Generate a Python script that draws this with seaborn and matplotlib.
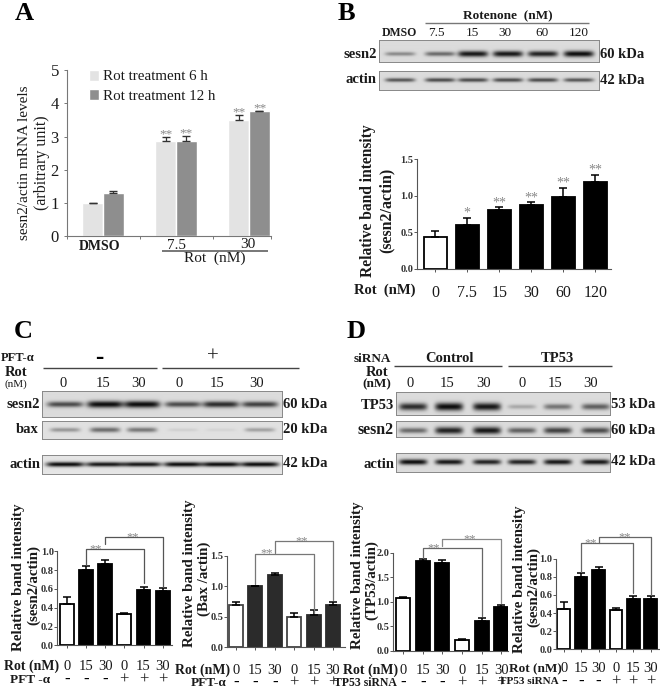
import numpy as np
import pandas as pd
import matplotlib
matplotlib.use("Agg")
import matplotlib.pyplot as plt
from matplotlib.transforms import blended_transform_factory
import seaborn as sns

W, H = 660, 691

# panel A
a_groups = ["DMSO", "7.5", "30"]
a_series = ["Rot treatment 6 h", "Rot treatment 12 h"]
a_6h = [1.0, 2.88, 3.5]
a_12h = [1.3, 2.88, 3.76]
a_6h_err = [0.0, 0.11, 0.14]
a_12h_err = [0.07, 0.15, 0.02]

# panel B
b_doses = ["0", "7.5", "15", "30", "60", "120"]
b_vals = [0.44, 0.60, 0.80, 0.87, 0.98, 1.19]
b_errs = [0.08, 0.10, 0.04, 0.04, 0.13, 0.10]
b_stars = ["", "*", "**", "**", "**", "**"]

# panels C and D
doses = ["0", "15", "30", "0", "15", "30"]
signs = ["-", "-", "-", "+", "+", "+"]
c1_vals = [0.44, 0.80, 0.87, 0.33, 0.59, 0.58]
c1_errs = [0.07, 0.04, 0.04, 0.01, 0.03, 0.03]
c2_vals = [0.69, 1.00, 1.18, 0.49, 0.53, 0.69]
c2_errs = [0.05, 0.01, 0.04, 0.07, 0.08, 0.05]
d1_vals = [1.07, 1.84, 1.80, 0.22, 0.61, 0.90]
d1_errs = [0.02, 0.04, 0.06, 0.01, 0.06, 0.04]
d2_vals = [0.44, 0.80, 0.87, 0.43, 0.56, 0.56]
d2_errs = [0.08, 0.04, 0.04, 0.03, 0.03, 0.03]

# band strength per lane, read by eye from the blots
b_sesn2 = [0.40, 0.55, 0.95, 0.95, 0.90, 1.00]
b_actin = [0.65, 0.70, 0.70, 0.70, 0.70, 0.65]
c_sesn2 = [0.70, 1.00, 1.00, 0.70, 0.85, 0.75]
c_bax = [0.35, 0.55, 0.50, 0.08, 0.06, 0.30]
c_actin = [1.00, 0.95, 0.95, 1.00, 1.00, 1.00]
d_tp53 = [0.85, 1.00, 0.95, 0.25, 0.50, 0.60]
d_sesn2 = [0.55, 0.90, 0.95, 0.60, 0.75, 0.70]
d_actin = [1.00, 0.95, 0.90, 0.90, 0.95, 0.95]

sns.set_theme(style="white")
plt.rcParams["font.family"] = ["Liberation Serif", "DejaVu Sans"]

fig = plt.figure(figsize=(W / 100, H / 100), dpi=100, facecolor="white")


def px_axes(x0, y0, x1, y1, **kw):
    return fig.add_axes([x0 / W, 1 - y1 / H, (x1 - x0) / W, (y1 - y0) / H], **kw)


page = px_axes(0, 0, W, H, zorder=10)
page.set_xlim(0, W)
page.set_ylim(H, 0)
page.axis("off")
page.patch.set_alpha(0)


def label(x, y, s, size=9.5, ha="center", weight="normal", rot=0, color="#1a1a1a"):
    page.text(x, y, s, fontsize=size, ha=ha, va="center", fontweight=weight,
              rotation=rot, color=color, rotation_mode="anchor")


def rule(x0, x1, y, color="#444444", lw=1.0):
    page.plot([x0, x1], [y, y], color=color, lw=lw, solid_capstyle="butt")


def gel(x0, y0, x1, y1, centers, strengths, band_y, band_w=26, band_h=1.8, bg=0.86):
    ax = px_axes(x0, y0, x1, y1)
    xs = np.linspace(x0, x1, int(x1 - x0) * 2)
    ys = np.linspace(y0, y1, int(y1 - y0) * 2)
    X, Y = np.meshgrid(xs, ys)
    img = np.full(X.shape, bg)
    for cx, s in zip(centers, strengths):
        img -= (bg - 0.05) * s * np.exp(-((X - cx) / (band_w / 2)) ** 6) \
            * np.exp(-((Y - band_y) / (band_h * (0.7 + s))) ** 2)
    ax.imshow(np.clip(img, 0, 1), cmap="gray", vmin=0, vmax=1, aspect="auto",
              extent=(x0, x1, y1, y0))
    ax.set_xticks([])
    ax.set_yticks([])
    for sp in ax.spines.values():
        sp.set_color("#888888")
        sp.set_linewidth(0.7)
    return ax


def bar_panel(x0, x1, y_top, y0, c0, step, ymax, yticks, vals, errs, white=(0, 3),
              fill="black", tick_size=7.5, white_edge="black", width=0.72):
    ax = px_axes(x0, y_top, x1, y0)
    pos = np.arange(len(vals))
    colors = ["white" if i in white else fill for i in pos]
    df = pd.DataFrame({"pos": pos, "val": vals})
    sns.barplot(data=df, x="pos", y="val", hue="pos", palette=colors, legend=False,
                width=width, linewidth=1.3, ax=ax, errorbar=None)
    for p, c in zip(ax.patches, colors):
        p.set_edgecolor(white_edge if c == "white" else fill)
    ax.errorbar(pos, vals, yerr=[np.zeros(len(vals)), errs], fmt="none", ecolor="black",
                elinewidth=1.1, capsize=2.6, capthick=1.1, zorder=1)
    ax.set_xlim((x0 - c0) / step, (x1 - c0) / step)
    ax.set_ylim(0, ymax)
    ax.set_yticks(yticks)
    ax.set_yticklabels(["%.1f" % t for t in yticks], fontsize=tick_size, fontweight="bold",
                       color="#333333")
    ax.set_xlabel("")
    ax.set_ylabel("")
    sns.despine(ax=ax)
    ax.patch.set_alpha(0)
    for s in ("left", "bottom"):
        ax.spines[s].set_color("#555555")
        ax.spines[s].set_linewidth(0.8)
    ax.tick_params(axis="both", length=2, width=0.7, color="#555555", pad=0.5,
                   left=True, bottom=True)
    return ax


def dose_row(ax, y_dose, y_sign, labels, marks, size=10.5):
    ax.set_xticks(range(len(labels)))
    ax.set_xticklabels([""] * len(labels))
    tr = blended_transform_factory(ax.transData, page.transData)
    for i, (d, m) in enumerate(zip(labels, marks)):
        page.text(i, y_dose, d, transform=tr, fontsize=size, ha="center", va="center",
                  color="#1a1a1a")
        if m == "-":
            page.text(i, y_sign - 1, "-", transform=tr, fontsize=12, ha="center",
                      va="center", fontweight="bold", color="black")
        else:
            page.text(i, y_sign - 1, "+", transform=tr, fontsize=12, ha="center", va="center",
                      color="#222222")


def bracket(ax, i, j, top, left, right, sx=None, color="#555555"):
    ax.plot([i, i, j, j], [left, top, top, right], color=color, lw=0.9, clip_on=False,
            zorder=5)
    ax.text((i + j) / 2 if sx is None else sx, top, "**", color="#888888", fontsize=9,
            ha="center", va="center", clip_on=False)


# A
ax_a = px_axes(66.5, 70.3, 271, 236)
df_a = pd.DataFrame({
    "group": a_groups * 2,
    "series": [a_series[0]] * 3 + [a_series[1]] * 3,
    "val": a_6h + a_12h,
})
sns.barplot(data=df_a, x="group", y="val", hue="series", order=a_groups,
            palette=["#e3e3e3", "#8e8e8e"], width=0.57, errorbar=None, gap=0,
            ax=ax_a)
off = 0.57 / 4
pos = np.arange(3)
ax_a.errorbar(pos - off, a_6h, yerr=[np.zeros(3), a_6h_err], fmt="none", ecolor="#333333",
              elinewidth=0.9, capsize=2.8)
ax_a.errorbar(pos + off, a_12h, yerr=[np.zeros(3), a_12h_err], fmt="none", ecolor="#333333",
              elinewidth=0.9, capsize=2.8)
for x_, y_ in [(1 - off, 3.07), (1 + off, 3.1), (2 - off, 3.72), (2 + off, 3.86)]:
    ax_a.text(x_, y_, "**", color="#888888", fontsize=9.5, ha="center", va="center")
ax_a.set_xlim(-0.5, 2.3)
ax_a.set_ylim(0, 5)
ax_a.set_xlabel("")
ax_a.set_ylabel("")
ax_a.set_yticks(range(6))
ax_a.set_yticklabels([str(i) for i in range(6)], fontsize=12, color="#1a1a1a")
ax_a.set_xticks([-0.5, 0.5, 1.5, 2.3], minor=True)
ax_a.set_xticks(pos)
ax_a.set_xticklabels(["", "", ""])
sns.despine(ax=ax_a)
for s in ("left", "bottom"):
    ax_a.spines[s].set_color("#777777")
    ax_a.spines[s].set_linewidth(0.8)
ax_a.tick_params(axis="y", left=True, length=2.5, width=0.7, color="#777777", pad=3)
ax_a.tick_params(axis="x", which="minor", bottom=True, length=2.5, width=0.7, color="#777777")
ax_a.tick_params(axis="x", which="major", bottom=False)
ax_a.legend(loc="upper left", bbox_to_anchor=(0.075, 1.05), frameon=False, fontsize=10.8,
            handlelength=0.65, handleheight=0.8, handletextpad=0.25, labelspacing=0.35,
            borderpad=0, labelcolor="#1a1a1a")
label(100, 246, "DMSO", size=10, weight="bold")
label(176, 245, "7.5", size=11)
label(248, 244, "30", size=11)
rule(162, 268, 250.7, color="#777777", lw=1.4)
label(215, 258, "Rot  (nM)", size=11)
label(25, 163, "sesn2/actin mRNA levels", size=11, rot=90)
label(42, 163, "(arbitrary unit)", size=11.5, rot=90)
label(24, 13, "A", size=19, weight="bold", color="black")

# B
label(346, 13, "B", size=19, weight="bold", color="black")
label(508, 16, "Rotenone  (nM)", size=9.5, weight="bold")
rule(425, 589, 22.7, color="#777777")
b_lanes = [399, 436, 472, 505, 542, 579]
for x_, s in zip(b_lanes, ["DMSO", "7.5", "15", "30", "60", "120"]):
    label(x_, 33, s, size=8.5 if s == "DMSO" else 9.5, weight="bold" if s == "DMSO" else "normal")
b_bands = [400, 440, 473, 508, 543, 579]
gel(379, 40, 599, 62.3, b_bands, b_sesn2, 54.5, band_w=30)
gel(379, 71, 599, 90, b_bands, b_actin, 80, band_w=30, band_h=1.5)
label(377, 54, "sesn2", size=10.5, ha="right", weight="bold")
label(377, 79, "actin", size=10.5, ha="right", weight="bold")
label(600, 54, "60 kDa", size=10.5, ha="left", weight="bold")
label(600, 80, "42 kDa", size=10.5, ha="left", weight="bold")

ax_b = bar_panel(417, 611, 159.3, 268.7, 435.3, 32, 1.5, [0, 0.5, 1.0, 1.5], b_vals, b_errs,
                 white=(0,))
ax_b.set_xticks(range(6))
ax_b.set_xticklabels(b_doses, fontsize=11.5, color="#1a1a1a")
ax_b.tick_params(axis="x", pad=10)
for i, s in enumerate(b_stars):
    ax_b.text(i, b_vals[i] + b_errs[i] + 0.06, s, color="#888888", fontsize=10, ha="center",
              va="center", clip_on=False)
label(385, 290, "Rot  (nM)", size=10.5, weight="bold")
label(368, 201, "Relative band intensity", size=11.2, rot=90, weight="bold")
label(387, 210, "(sesn2/actin)", size=11.5, rot=90, weight="bold")

# C
label(23, 331, "C", size=19, weight="bold", color="black")
label(1, 358, "PFT-\u03b1", size=9, ha="left", weight="bold")
label(16, 372, "Rot", size=10.5, weight="bold")
label(16, 384, "(nM)", size=8)
rule(43, 157, 368.3)
rule(162, 299, 368.3)
label(99, 357, "-", size=18, weight="bold", color="black")
label(213, 357, "+", size=15)
for x_, s in zip([63, 103, 139, 179, 217, 257], doses):
    label(x_, 383, s, size=10.5)
c_lanes = [65, 105, 142, 183, 221, 260]
gel(42, 391, 282, 417.3, c_lanes, c_sesn2, 405, band_w=36, band_h=2.0)
gel(42, 421, 282, 439.3, c_lanes, c_bax, 430.5, band_w=30, band_h=2.0, bg=0.88)
gel(42, 455, 282, 474.3, c_lanes, c_actin, 465, band_w=38, band_h=1.4, bg=0.9)
label(40, 404, "sesn2", size=10.5, ha="right", weight="bold")
label(39, 429, "bax", size=10.5, ha="right", weight="bold")
label(40, 464, "actin", size=10.5, ha="right", weight="bold")
label(283, 404, "60 kDa", size=10.5, ha="left", weight="bold")
label(283, 429, "20 kDa", size=10.5, ha="left", weight="bold")
label(283, 463, "42 kDa", size=10.5, ha="left", weight="bold")

ax_c1 = bar_panel(57.3, 171.7, 551.3, 645.3, 66.7, 19.2, 1.0, [0, 0.2, 0.4, 0.6, 0.8, 1.0],
                  c1_vals, c1_errs)
dose_row(ax_c1, 666, 681, doses, signs)
bracket(ax_c1, 1, 4, 1.02, 0.855, 0.667, sx=1.5)
bracket(ax_c1, 2, 5, 1.15, 1.078, 0.617, sx=3.45)
label(4, 666, "Rot (nM)", size=10, ha="left", weight="bold")
label(50, 680, "PFT -\u03b1", size=9.5, ha="right", weight="bold")
label(19, 577, "Relative band intensity", size=10.8, rot=90, weight="bold")
label(34, 585, "(sesn2/actin)", size=10.8, rot=90, weight="bold")

ax_c2 = bar_panel(226.7, 345, 555.7, 647.3, 236, 19.4, 1.5, [0, 0.5, 1.0, 1.5],
                  c2_vals, c2_errs, fill="#2b2b2b", white_edge="#444444")
dose_row(ax_c2, 670, 684, doses, signs)
bracket(ax_c2, 1, 4, 1.535, 1.04, 0.557, sx=1.6, color="#777777")
bracket(ax_c2, 2, 5, 1.74, 1.55, 0.78, sx=3.4, color="#777777")
label(175, 670, "Rot (nM)", size=10, ha="left", weight="bold")
label(226, 683, "PFT-\u03b1", size=9.5, ha="right", weight="bold")
label(189, 573, "Relative band intensity", size=10.8, rot=90, weight="bold")
label(204, 579, "(Bax /actin)", size=10.8, rot=90, weight="bold")

# D
label(356, 331, "D", size=19, weight="bold", color="black")
label(391, 359, "siRNA", size=9.5, ha="right", weight="bold")
label(377, 372, "Rot", size=10.5, weight="bold")
label(377, 384, "(nM)", size=9.5, weight="bold")
rule(394, 502, 365.7)
rule(508, 612, 365.7)
label(449, 358, "Control", size=10.5, weight="bold")
label(557, 358, "TP53", size=10.5, weight="bold")
for x_, s in zip([410, 447, 484, 522, 555, 591], doses):
    label(x_, 383, s, size=10.5)
d_lanes = [413, 449, 487, 522, 558, 596]
gel(396, 391.7, 610, 414.7, d_lanes, d_tp53, 406.5, band_w=28, band_h=2.4)
gel(396, 420.7, 610, 437.3, d_lanes, d_sesn2, 431, band_w=28, band_h=2.2)
gel(396, 453.3, 610, 471.7, d_lanes, d_actin, 462, band_w=28, band_h=1.6)
label(394, 405, "TP53", size=10.5, ha="right", weight="bold")
label(394, 430, "sesn2", size=11.5, ha="right", weight="bold")
label(394, 464, "actin", size=10.5, ha="right", weight="bold")
label(611, 404, "53 kDa", size=10.5, ha="left", weight="bold")
label(611, 430, "60 kDa", size=10.5, ha="left", weight="bold")
label(611, 461, "42 kDa", size=10.5, ha="left", weight="bold")

ax_d1 = bar_panel(393, 508, 552.7, 650.7, 403.2, 19.6, 2.0, [0, 0.5, 1.0, 1.5, 2.0],
                  d1_vals, d1_errs)
dose_row(ax_d1, 670.5, 684, doses, signs)
bracket(ax_d1, 1, 4, 2.09, 1.90, 0.71, sx=1.55, color="#666666")
bracket(ax_d1, 2, 5, 2.27, 2.13, 0.966, sx=3.4, color="#888888")
label(343, 670.5, "Rot (nM)", size=10, ha="left", weight="bold")
label(397, 683, "TP53 siRNA", size=8.5, ha="right", weight="bold")
label(358, 575, "Relative band intensity", size=10.8, rot=90, weight="bold")
label(372, 580, "(TP53/actin)", size=10.8, rot=90, weight="bold")

ax_d2 = bar_panel(556, 659, 558.7, 649.3, 563.7, 17.4, 1.0, [0, 0.2, 0.4, 0.6, 0.8, 1.0],
                  d2_vals, d2_errs)
dose_row(ax_d2, 669, 683, doses, signs)
bracket(ax_d2, 1, 4, 1.17, 0.857, 0.62, sx=1.55, color="#666666")
bracket(ax_d2, 2, 5, 1.24, 1.17, 0.60, sx=3.5, color="#666666")
label(509, 669, "Rot (nM)", size=9.5, ha="left", weight="bold")
label(559, 682, "TP53 siRNA", size=8, ha="right", weight="bold")
label(520, 579, "Relative band intensity", size=10.8, rot=90, weight="bold")
label(534, 587, "(sesn2/actin)", size=10.8, rot=90, weight="bold")

fig.savefig("out.png", dpi=100)
